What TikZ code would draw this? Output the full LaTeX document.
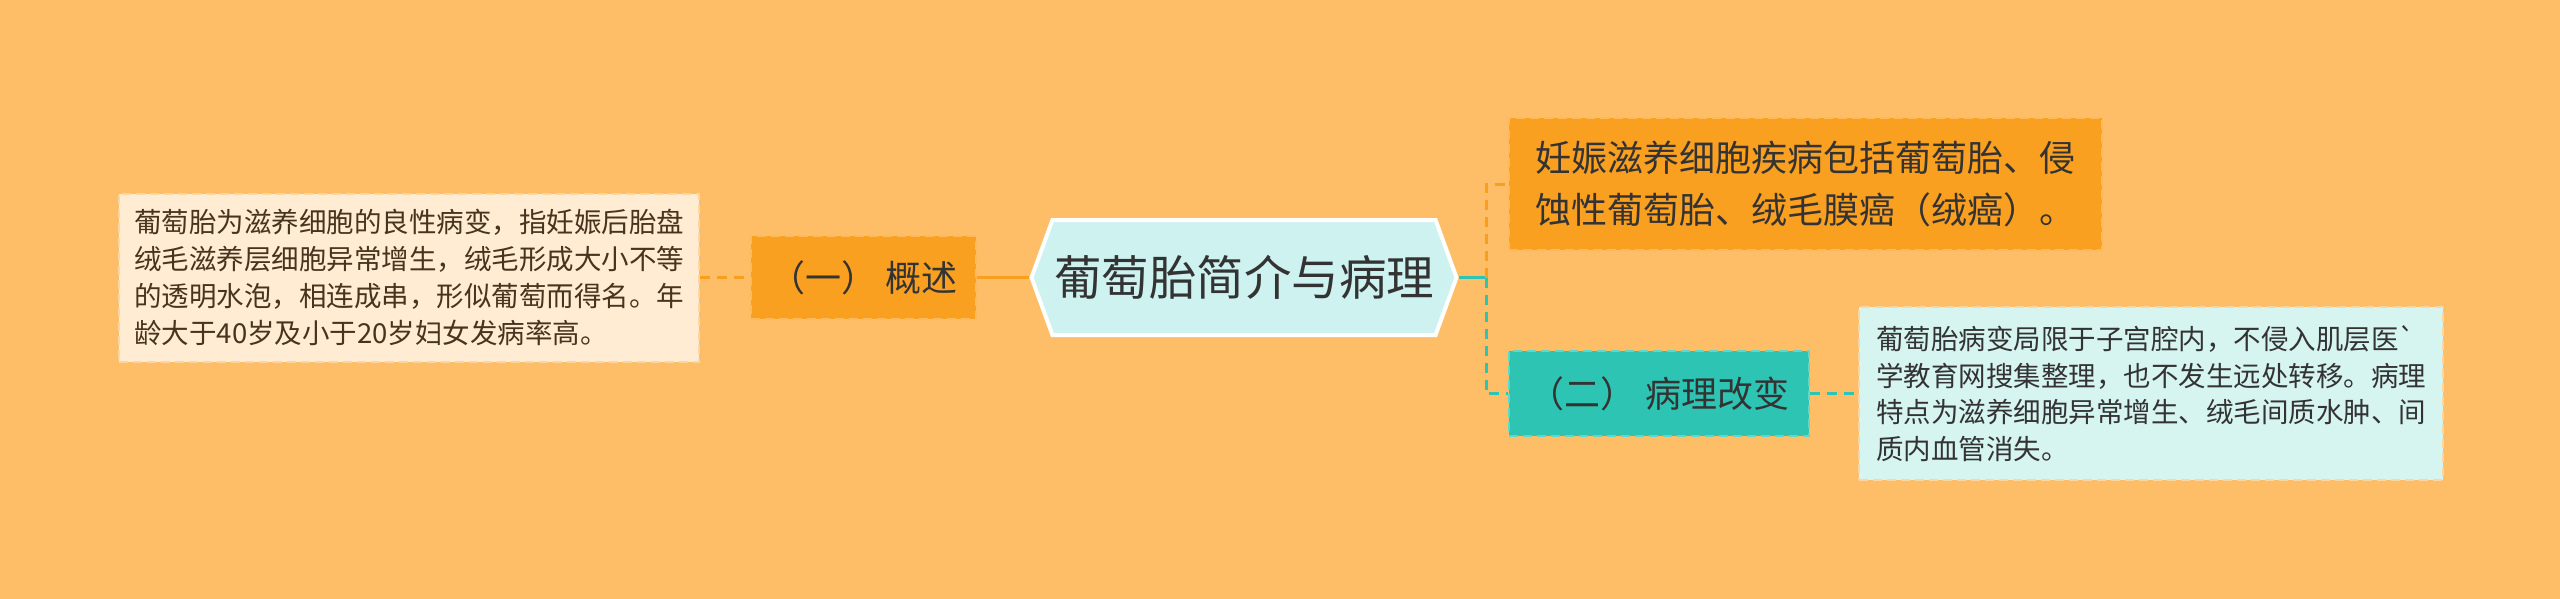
\documentclass[tikz,border=0pt]{standalone}
\usepackage{fontspec}
\setmainfont{Noto Sans CJK SC}
\usepackage{xcolor}
\usepackage{tikz}
\usetikzlibrary{shapes.symbols,positioning}
\definecolor{bgorange}{RGB}{254,190,104}
\definecolor{boxorange}{RGB}{250,160,32}
\definecolor{lineorange}{RGB}{250,158,30}
\definecolor{dashorange}{RGB}{253,185,90}
\definecolor{boxteal}{RGB}{46,196,180}
\definecolor{dashteal}{RGB}{100,214,200}
\definecolor{hexfill}{RGB}{205,242,240}
\definecolor{lightteal}{RGB}{214,244,240}
\definecolor{cream}{RGB}{255,236,211}
\definecolor{creamdash}{RGB}{252,214,160}
\definecolor{textdark}{RGB}{51,51,51}
\definecolor{textbrown}{RGB}{72,52,30}
\tikzset{%
  dashbox/.style={draw,rectangle,line width=2pt,dash pattern=on 9pt off 5pt,align=left,inner sep=0pt},%
  link/.style={line width=3pt},%
  dashlink/.style={line width=3pt,dash pattern=on 10pt off 7pt},%
}
\begin{document}
\begin{tikzpicture}[x=1pt,y=-1pt]%
\fill[bgorange] (0,0) rectangle (2560,599);%
\node[signal,signal to=west and east,signal pointer angle=140,fill=hexfill,draw=white,line width=4pt,minimum width=425pt,minimum height=115pt,inner sep=0pt,text=textdark,font=\fontsize{47.5}{50}\selectfont] (hex) at (1244,277.5) {葡萄胎简介与病理};%
\node[dashbox,fill=boxorange,draw=dashorange,minimum width=225pt,minimum height=83pt,text=textdark,font=\fontsize{36}{40}\selectfont,left=52pt of hex] (gaishu) {（一） 概述};%
\node[dashbox,fill=cream,draw=creamdash,minimum width=580pt,minimum height=168pt,text=textbrown,font=\fontsize{27.5}{36.7}\selectfont,left=50pt of gaishu] (intro) {葡萄胎为滋养细胞的良性病变，指妊娠后胎盘\\绒毛滋养层细胞异常增生，绒毛形成大小不等\\的透明水泡，相连成串，形似葡萄而得名。年\\龄大于40岁及小于20岁妇女发病率高。};%
\node[dashbox,fill=boxorange,draw=dashorange,minimum width=593pt,minimum height=132pt,text=textdark,font=\fontsize{36}{52}\selectfont] (types) at (1805.5,184) {妊娠滋养细胞疾病包括葡萄胎、侵\\蚀性葡萄胎、绒毛膜癌（绒癌）。};%
\node[dashbox,fill=boxteal,draw=dashteal,minimum width=300pt,minimum height=85pt,text=textdark,font=\fontsize{36}{40}\selectfont] (bingli) at (1659,393.5) {（二） 病理改变};%
\node[dashbox,fill=lightteal,draw=creamdash,minimum width=584pt,minimum height=173pt,text=textdark,font=\fontsize{27.5}{36.5}\selectfont,right=48pt of bingli] (change) {葡萄胎病变局限于子宫腔内，不侵入肌层医\textasciigrave\\学教育网搜集整理，也不发生远处转移。病理\\特点为滋养细胞异常增生、绒毛间质水肿、间\\质内血管消失。};%
\coordinate (fork) at (1486,277.5);%
\draw[dashlink,lineorange] (intro.east) -- (gaishu.west);%
\draw[link,lineorange] (gaishu.east) -- (hex.west);%
\draw[link,boxteal] (hex.east) -- (fork);%
\draw[dashlink,lineorange] (fork) |- (types.west);%
\draw[dashlink,boxteal] (fork) |- (bingli.west);%
\draw[dashlink,boxteal] (bingli.east) -- (change.west);%
\end{tikzpicture}
\end{document}
